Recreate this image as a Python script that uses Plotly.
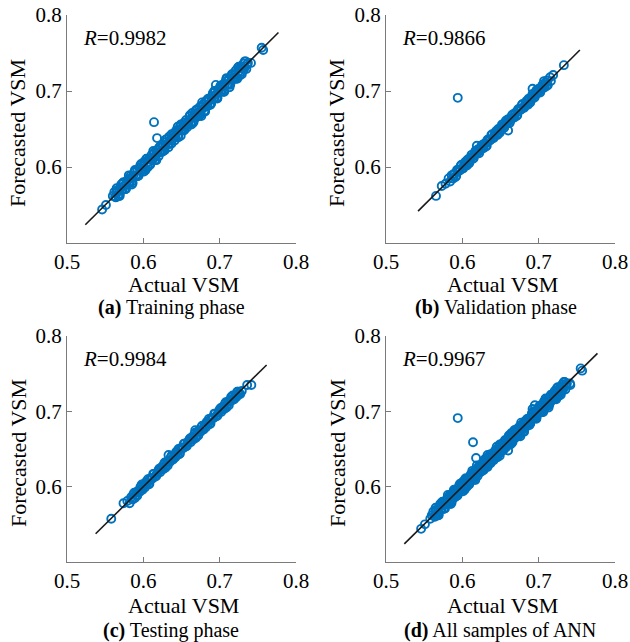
import plotly.graph_objects as go

# ---------------- data ----------------
# (a) Training phase
train_actual = [
    0.562, 0.564, 0.566, 0.568, 0.570, 0.572, 0.574, 0.576, 0.578, 0.580,
    0.582, 0.584, 0.586, 0.588, 0.590, 0.592, 0.594, 0.596, 0.598, 0.600,
    0.602, 0.604, 0.606, 0.608, 0.610, 0.612, 0.614, 0.616, 0.618, 0.620,
    0.622, 0.624, 0.626, 0.628, 0.630, 0.632, 0.634, 0.636, 0.638, 0.640,
    0.642, 0.644, 0.646, 0.648, 0.650, 0.652, 0.654, 0.656, 0.658, 0.660,
    0.662, 0.664, 0.666, 0.668, 0.670, 0.672, 0.674, 0.676, 0.678, 0.680,
    0.682, 0.684, 0.686, 0.688, 0.690, 0.692, 0.694, 0.696, 0.698, 0.700,
    0.702, 0.704, 0.706, 0.708, 0.710, 0.712, 0.714, 0.716, 0.718, 0.720,
    0.722, 0.724, 0.726, 0.728, 0.730, 0.732, 0.734, 0.736,
    0.563, 0.565, 0.567, 0.569, 0.571, 0.573, 0.575, 0.577, 0.579, 0.581,
    0.583, 0.585, 0.587, 0.589, 0.591, 0.593, 0.595, 0.597, 0.599, 0.601,
    0.603, 0.605, 0.607, 0.609, 0.611, 0.613, 0.615, 0.617, 0.619, 0.621,
    0.623, 0.625, 0.627, 0.629, 0.631, 0.633, 0.635, 0.637, 0.639, 0.641,
    0.643, 0.645, 0.647, 0.649, 0.651, 0.653, 0.655, 0.657, 0.659, 0.661,
    0.663, 0.665, 0.667, 0.669, 0.671, 0.673, 0.675, 0.677, 0.679, 0.681,
    0.683, 0.685, 0.687, 0.689, 0.691, 0.693, 0.695, 0.697, 0.699, 0.701,
    0.703, 0.705, 0.707, 0.709, 0.711, 0.713, 0.715, 0.717, 0.719, 0.721,
    0.723, 0.725, 0.727, 0.729, 0.731, 0.733, 0.735,
    0.565, 0.569, 0.573, 0.577, 0.581, 0.585, 0.589, 0.593, 0.597, 0.601,
    0.605, 0.609, 0.613, 0.617, 0.621, 0.625, 0.629, 0.633, 0.637, 0.641,
    0.645, 0.649, 0.653, 0.657, 0.661, 0.665, 0.669, 0.673, 0.677, 0.681,
    0.685, 0.689, 0.693, 0.697, 0.701, 0.705, 0.709, 0.713, 0.717, 0.721,
    0.725, 0.729, 0.733,
    0.546, 0.551, 0.560, 0.569, 0.614, 0.618, 0.695, 0.676, 0.737, 0.741,
    0.755, 0.757, 0.728,
]
train_forecast = [
    0.567, 0.560, 0.567, 0.562, 0.573, 0.570, 0.580, 0.571, 0.578, 0.584,
    0.579, 0.586, 0.579, 0.593, 0.589, 0.595, 0.589, 0.602, 0.596, 0.601,
    0.598, 0.611, 0.600, 0.610, 0.610, 0.609, 0.619, 0.615, 0.622, 0.614,
    0.627, 0.620, 0.627, 0.622, 0.633, 0.630, 0.640, 0.631, 0.638, 0.644,
    0.639, 0.646, 0.639, 0.653, 0.649, 0.655, 0.649, 0.662, 0.656, 0.661,
    0.658, 0.671, 0.660, 0.670, 0.670, 0.669, 0.679, 0.675, 0.682, 0.674,
    0.687, 0.680, 0.687, 0.682, 0.693, 0.690, 0.700, 0.691, 0.698, 0.704,
    0.699, 0.706, 0.699, 0.713, 0.709, 0.715, 0.709, 0.722, 0.716, 0.721,
    0.718, 0.731, 0.720, 0.730, 0.730, 0.729, 0.739, 0.735,
    0.561, 0.569, 0.562, 0.570, 0.577, 0.570, 0.575, 0.571, 0.582, 0.580,
    0.588, 0.581, 0.589, 0.596, 0.589, 0.588, 0.599, 0.597, 0.596, 0.607,
    0.596, 0.606, 0.610, 0.605, 0.616, 0.612, 0.609, 0.619, 0.623, 0.619,
    0.621, 0.629, 0.622, 0.630, 0.637, 0.630, 0.635, 0.631, 0.642, 0.640,
    0.648, 0.641, 0.649, 0.656, 0.649, 0.648, 0.659, 0.657, 0.656, 0.667,
    0.656, 0.666, 0.670, 0.665, 0.676, 0.672, 0.669, 0.679, 0.683, 0.679,
    0.681, 0.689, 0.682, 0.690, 0.697, 0.690, 0.695, 0.691, 0.702, 0.700,
    0.708, 0.701, 0.709, 0.716, 0.709, 0.708, 0.719, 0.717, 0.716, 0.727,
    0.716, 0.726, 0.730, 0.725, 0.736, 0.732, 0.729,
    0.572, 0.562, 0.579, 0.571, 0.589, 0.577, 0.594, 0.588, 0.604, 0.594,
    0.611, 0.603, 0.621, 0.609, 0.626, 0.620, 0.636, 0.626, 0.643, 0.635,
    0.653, 0.641, 0.658, 0.652, 0.668, 0.658, 0.675, 0.667, 0.685, 0.673,
    0.690, 0.684, 0.700, 0.690, 0.707, 0.699, 0.717, 0.705, 0.722, 0.716,
    0.732, 0.722, 0.739,
    0.544, 0.550, 0.562, 0.564, 0.659, 0.638, 0.708, 0.667, 0.737, 0.737,
    0.757, 0.754, 0.732,
]

# (b) Validation phase
val_actual = [
    0.586, 0.588, 0.590, 0.592, 0.594, 0.596, 0.598, 0.600, 0.602, 0.604,
    0.606, 0.608, 0.610, 0.612, 0.614, 0.616, 0.618, 0.620, 0.622, 0.624,
    0.626, 0.628, 0.630, 0.632, 0.634, 0.636, 0.638, 0.640, 0.642, 0.644,
    0.646, 0.648, 0.650, 0.652, 0.654, 0.656, 0.658, 0.660, 0.662, 0.664,
    0.666, 0.668, 0.670, 0.672, 0.674, 0.676, 0.678, 0.680, 0.682, 0.684,
    0.686, 0.688, 0.690, 0.692, 0.694, 0.696, 0.698, 0.700, 0.702, 0.704,
    0.706, 0.708, 0.710, 0.712,
    0.587, 0.589, 0.591, 0.593, 0.595, 0.597, 0.599, 0.601, 0.603, 0.605,
    0.607, 0.609, 0.611, 0.613, 0.615, 0.617, 0.619, 0.621, 0.623, 0.625,
    0.627, 0.629, 0.631, 0.633, 0.635, 0.637, 0.639, 0.641, 0.643, 0.645,
    0.647, 0.649, 0.651, 0.653, 0.655, 0.657, 0.659, 0.661, 0.663, 0.665,
    0.667, 0.669, 0.671, 0.673, 0.675, 0.677, 0.679, 0.681, 0.683, 0.685,
    0.687, 0.689, 0.691, 0.693, 0.695, 0.697, 0.699, 0.701, 0.703, 0.705,
    0.707, 0.709, 0.711,
    0.594, 0.5655, 0.573, 0.578, 0.582, 0.584, 0.733, 0.719, 0.716, 0.711,
    0.715, 0.660, 0.619, 0.692, 0.707,
]
val_forecast = [
    0.589, 0.585, 0.591, 0.588, 0.596, 0.595, 0.602, 0.598, 0.602, 0.607,
    0.602, 0.609, 0.608, 0.616, 0.611, 0.618, 0.617, 0.623, 0.618, 0.624,
    0.629, 0.625, 0.631, 0.628, 0.636, 0.635, 0.642, 0.638, 0.642, 0.647,
    0.642, 0.649, 0.648, 0.656, 0.651, 0.658, 0.657, 0.663, 0.658, 0.664,
    0.669, 0.665, 0.671, 0.668, 0.676, 0.675, 0.682, 0.678, 0.682, 0.687,
    0.682, 0.689, 0.688, 0.696, 0.691, 0.698, 0.697, 0.703, 0.698, 0.704,
    0.709, 0.705, 0.711, 0.708,
    0.585, 0.591, 0.587, 0.596, 0.595, 0.596, 0.603, 0.598, 0.604, 0.603,
    0.610, 0.605, 0.613, 0.613, 0.612, 0.621, 0.618, 0.622, 0.621, 0.628,
    0.625, 0.631, 0.627, 0.636, 0.635, 0.636, 0.643, 0.638, 0.644, 0.643,
    0.650, 0.645, 0.653, 0.653, 0.652, 0.661, 0.658, 0.662, 0.661, 0.668,
    0.665, 0.671, 0.667, 0.676, 0.675, 0.676, 0.683, 0.678, 0.684, 0.683,
    0.690, 0.685, 0.693, 0.693, 0.692, 0.701, 0.698, 0.702, 0.701, 0.708,
    0.705, 0.711, 0.707,
    0.691, 0.562, 0.575, 0.578, 0.585, 0.581, 0.734, 0.721, 0.713, 0.714,
    0.718, 0.648, 0.628, 0.703, 0.713,
]

# (c) Testing phase
test_actual = [
    0.584, 0.586, 0.588, 0.590, 0.592, 0.594, 0.596, 0.598, 0.600, 0.602,
    0.604, 0.606, 0.608, 0.610, 0.612, 0.614, 0.616, 0.618, 0.620, 0.622,
    0.624, 0.626, 0.628, 0.630, 0.632, 0.634, 0.636, 0.638, 0.640, 0.642,
    0.644, 0.646, 0.648, 0.650, 0.652, 0.654, 0.656, 0.658, 0.660, 0.662,
    0.664, 0.666, 0.668, 0.670, 0.672, 0.674, 0.676, 0.678, 0.680, 0.682,
    0.684, 0.686, 0.688, 0.690, 0.692, 0.694, 0.696, 0.698, 0.700, 0.702,
    0.704, 0.706, 0.708, 0.710, 0.712, 0.714, 0.716, 0.718, 0.720, 0.722,
    0.724, 0.726,
    0.585, 0.587, 0.589, 0.591, 0.593, 0.595, 0.597, 0.599, 0.601, 0.603,
    0.605, 0.607, 0.609, 0.611, 0.613, 0.615, 0.617, 0.619, 0.621, 0.623,
    0.625, 0.627, 0.629, 0.631, 0.633, 0.635, 0.637, 0.639, 0.641, 0.643,
    0.645, 0.647, 0.649, 0.651, 0.653, 0.655, 0.657, 0.659, 0.661, 0.663,
    0.665, 0.667, 0.669, 0.671, 0.673, 0.675, 0.677, 0.679, 0.681, 0.683,
    0.685, 0.687, 0.689, 0.691, 0.693, 0.695, 0.697, 0.699, 0.701, 0.703,
    0.705, 0.707, 0.709, 0.711, 0.713, 0.715, 0.717, 0.719, 0.721, 0.723,
    0.725,
    0.558, 0.574, 0.582, 0.579, 0.7415, 0.736, 0.727, 0.717, 0.633, 0.668,
    0.598, 0.729,
]
test_forecast = [
    0.586, 0.583, 0.592, 0.589, 0.588, 0.595, 0.599, 0.596, 0.600, 0.599,
    0.606, 0.610, 0.604, 0.611, 0.611, 0.617, 0.614, 0.618, 0.622, 0.619,
    0.626, 0.623, 0.632, 0.629, 0.628, 0.635, 0.639, 0.636, 0.640, 0.639,
    0.646, 0.650, 0.644, 0.651, 0.651, 0.657, 0.654, 0.658, 0.662, 0.659,
    0.666, 0.663, 0.672, 0.669, 0.668, 0.675, 0.679, 0.676, 0.680, 0.679,
    0.686, 0.690, 0.684, 0.691, 0.691, 0.697, 0.694, 0.698, 0.702, 0.699,
    0.706, 0.703, 0.712, 0.709, 0.708, 0.715, 0.719, 0.716, 0.720, 0.719,
    0.726, 0.723,
    0.584, 0.590, 0.585, 0.593, 0.593, 0.593, 0.601, 0.596, 0.602, 0.606,
    0.604, 0.603, 0.611, 0.611, 0.617, 0.613, 0.614, 0.620, 0.624, 0.622,
    0.624, 0.630, 0.625, 0.633, 0.633, 0.633, 0.641, 0.636, 0.642, 0.646,
    0.644, 0.643, 0.651, 0.651, 0.657, 0.653, 0.654, 0.660, 0.664, 0.662,
    0.664, 0.670, 0.665, 0.673, 0.673, 0.673, 0.681, 0.676, 0.682, 0.686,
    0.684, 0.683, 0.691, 0.691, 0.697, 0.693, 0.694, 0.700, 0.704, 0.702,
    0.704, 0.710, 0.705, 0.713, 0.713, 0.719, 0.715, 0.716, 0.722, 0.726,
    0.724,
    0.5575, 0.578, 0.578, 0.581, 0.735, 0.735, 0.723, 0.721, 0.642, 0.675,
    0.603, 0.727,
]

# (d) All samples = training + validation + testing
all_actual = train_actual + val_actual + test_actual
all_forecast = train_forecast + val_forecast + test_forecast

panels = [
    ("(a)", "Training phase", "0.9982", train_actual, train_forecast),
    ("(b)", "Validation phase", "0.9866", val_actual, val_forecast),
    ("(c)", "Testing phase", "0.9984", test_actual, test_forecast),
    ("(d)", "All samples of ANN", "0.9967", all_actual, all_forecast),
]

x_ticks = [0.5, 0.6, 0.7, 0.8]
y_ticks = [0.6, 0.7, 0.8]
axis_range = [0.5, 0.8]

# ---------------- layout geometry (pixels) ----------------
W, H = 630, 642
boxes = [  # left, right, top, bottom
    (67, 296, 15, 243),
    (386, 615, 15, 243),
    (67, 296, 336, 562),
    (386, 615, 336, 562),
]
caption_cx = [171, 496, 171, 500]
title_dy = [41, 41, 43, 43]
caption_dy = [64, 64, 68, 68]

FONT = "Liberation Serif, Times New Roman, serif"
BLUE = "rgb(0,114,189)"
AXIS_GRAY = "#7a7a7a"

fig = go.Figure()
layout = dict(
    width=W, height=H,
    margin=dict(l=0, r=0, t=0, b=0, autoexpand=False),
    paper_bgcolor="white", plot_bgcolor="white",
    showlegend=False,
    font=dict(family=FONT, size=21, color="black"),
    annotations=[],
)


def px(x):
    return x / W


def py(y):
    return 1 - y / H


for i, (tag, name, rval, xa, ya) in enumerate(panels):
    n = "" if i == 0 else str(i + 1)
    xref, yref = "x" + n, "y" + n
    fig.add_trace(go.Scatter(
        x=xa, y=ya, mode="markers", xaxis=xref, yaxis=yref,
        marker=dict(symbol="circle-open", size=8, color=BLUE,
                    line=dict(width=1.9, color=BLUE)),
        hoverinfo="skip",
    ))
    lo = min(min(xa), min(ya)) - 0.02
    hi = max(max(xa), max(ya)) + 0.02
    fig.add_trace(go.Scatter(
        x=[lo, hi], y=[lo, hi], mode="lines", xaxis=xref, yaxis=yref,
        line=dict(color="#1a1a1a", width=1.6), hoverinfo="skip",
    ))
    l, r, t, b = boxes[i]
    common = dict(
        range=axis_range, automargin=False,
        ticks="inside", ticklen=5, tickcolor=AXIS_GRAY,
        showline=True, linecolor=AXIS_GRAY, linewidth=1,
        showgrid=False, zeroline=False,
        tickfont=dict(family=FONT, size=21, color="black"),
    )
    layout["xaxis" + n] = dict(
        domain=[px(l), px(r)], anchor=yref,
        tickvals=x_ticks, ticktext=[f"{v:.1f}" for v in x_ticks], **common,
    )
    layout["yaxis" + n] = dict(
        domain=[py(b), py(t)], anchor=xref,
        tickvals=y_ticks, ticktext=[f"{v:.1f}" for v in y_ticks], **common,
    )
    # R value
    layout["annotations"].append(dict(
        xref="paper", yref="paper", x=px(l + 14), y=py(t + 23),
        xanchor="left", yanchor="middle", showarrow=False,
        text=f"<i>R</i>={rval}", font=dict(family=FONT, size=21, color="black"),
    ))
    # x title
    layout["annotations"].append(dict(
        xref="paper", yref="paper", x=px((l + r) / 2 + 2), y=py(b + title_dy[i]),
        xanchor="center", yanchor="middle", showarrow=False,
        text="Actual VSM", font=dict(family=FONT, size=22, color="black"),
    ))
    # y title
    layout["annotations"].append(dict(
        xref="paper", yref="paper", x=px(l - 49), y=py((t + b) / 2 + 4),
        xanchor="center", yanchor="middle", showarrow=False, textangle=-90,
        text="Forecasted VSM", font=dict(family=FONT, size=22, color="black"),
    ))
    # caption
    layout["annotations"].append(dict(
        xref="paper", yref="paper", x=px(caption_cx[i]), y=py(b + caption_dy[i]),
        xanchor="center", yanchor="middle", showarrow=False,
        text=f"<b>{tag}</b> {name}", font=dict(family=FONT, size=20, color="black"),
    ))

fig.update_layout(**layout)
fig.write_html(
    "out.html",
    config={"displayModeBar": False},
    post_script="document.body.style.margin='0';document.body.style.padding='0';",
)
